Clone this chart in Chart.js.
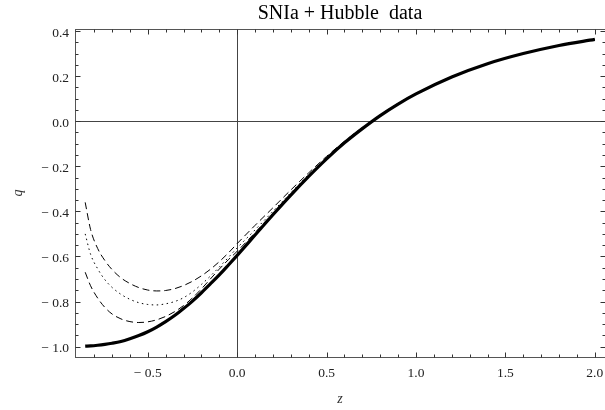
<!DOCTYPE html>
<html><head><meta charset="utf-8">
<script src="https://cdn.jsdelivr.net/npm/chart.js@4/dist/chart.umd.min.js"></script>
<style>html,body{margin:0;padding:0;background:#fff;overflow:hidden}canvas{display:block}</style>
</head><body>
<canvas id="c" width="605" height="410" style="width:605px;height:410px"></canvas>
<script>
const titleText = 'SNIa + Hubble  data';
const zValues = [-0.85,-0.82,-0.78,-0.74,-0.70,-0.65,-0.60,-0.55,-0.50,-0.45,-0.40,-0.35,-0.30,-0.25,-0.20,-0.15,-0.10,-0.05,0,0.1,0.2,0.3,0.4,0.5,0.6,0.7,0.8,0.9,1.0,1.2,1.4,1.6,1.8,2.0];
const qSolid = [-0.998,-0.997,-0.994,-0.990,-0.985,-0.977,-0.965,-0.951,-0.934,-0.913,-0.889,-0.862,-0.831,-0.798,-0.761,-0.722,-0.682,-0.639,-0.595,-0.505,-0.415,-0.328,-0.245,-0.167,-0.096,-0.033,0.025,0.076,0.121,0.196,0.255,0.300,0.336,0.363];
const qUpperDashed = [-0.36,-0.48,-0.565,-0.618,-0.658,-0.695,-0.72,-0.738,-0.749,-0.753,-0.751,-0.743,-0.729,-0.71,-0.686,-0.657,-0.623,-0.585,-0.543,-0.462,-0.384,-0.305,-0.229,-0.156,-0.089,-0.028,0.028,0.079,0.124,0.198,0.256,0.300,0.336,0.364];
const qDotted = [-0.50,-0.59,-0.655,-0.703,-0.737,-0.768,-0.79,-0.805,-0.813,-0.815,-0.810,-0.800,-0.783,-0.757,-0.724,-0.687,-0.647,-0.605,-0.562,-0.482,-0.400,-0.317,-0.237,-0.162,-0.093,-0.031,0.026,0.077,0.122,0.197,0.255,0.300,0.335,0.363];
const qLowerDashed = [-0.67,-0.73,-0.785,-0.826,-0.855,-0.877,-0.889,-0.893,-0.89,-0.881,-0.866,-0.845,-0.818,-0.784,-0.744,-0.70,-0.656,-0.615,-0.577,-0.494,-0.408,-0.322,-0.241,-0.164,-0.094,-0.032,0.026,0.077,0.122,0.196,0.255,0.299,0.335,0.362];
const xTickLabels = [-0.5,0,0.5,1,1.5,2];
const xMinorTicks = [-0.8,-0.7,-0.6,-0.4,-0.3,-0.2,-0.1,0.1,0.2,0.3,0.4,0.6,0.7,0.8,0.9,1.1,1.2,1.3,1.4,1.6,1.7,1.8,1.9];
const yTickLabels = [-1,-0.8,-0.6,-0.4,-0.2,0,0.2,0.4];
const yMinorTicks = [-0.95,-0.9,-0.85,-0.75,-0.7,-0.65,-0.55,-0.5,-0.45,-0.35,-0.3,-0.25,-0.15,-0.1,-0.05,0.05,0.1,0.15,0.25,0.3,0.35];
const xMin = -0.907, xMax = 2.057, yMin = -1.046, yMax = 0.409;

const pts = arr => zValues.map((z,i)=>({x:z,y:arr[i]}));
const fmt = v => { const s = Math.abs(v).toFixed(1); return v < -1e-9 ? '\u2212 ' + s : s; };

const frameTicks = {
  id:'frameTicks',
  beforeDatasetsDraw(chart){
    const {ctx, chartArea:a, scales:{x,y}} = chart;
    ctx.save();
    ctx.lineWidth = 1;
    ctx.strokeStyle = '#444';
    const px0 = Math.round(x.getPixelForValue(0))+0.5;
    const py0 = Math.round(y.getPixelForValue(0))+0.5;
    ctx.beginPath();
    ctx.moveTo(px0,a.top); ctx.lineTo(px0,a.bottom);
    ctx.moveTo(a.left,py0); ctx.lineTo(a.right,py0);
    ctx.stroke();
    ctx.strokeStyle = '#555';
    ctx.strokeRect(a.left+0.5, a.top+0.5, a.right-a.left, a.bottom-a.top);
    ctx.strokeStyle = '#333';
    ctx.beginPath();
    const xt = (v,len)=>{const p=Math.round(x.getPixelForValue(v))+0.5;
      ctx.moveTo(p,a.bottom+0.5); ctx.lineTo(p,a.bottom+0.5-len);
      ctx.moveTo(p,a.top+0.5); ctx.lineTo(p,a.top+0.5+len);};
    const yt = (v,len)=>{const p=Math.round(y.getPixelForValue(v))+0.5;
      ctx.moveTo(a.left+0.5,p); ctx.lineTo(a.left+0.5+len,p);
      ctx.moveTo(a.right+0.5,p); ctx.lineTo(a.right+0.5-len,p);};
    xTickLabels.forEach(v=>xt(v,5)); xMinorTicks.forEach(v=>xt(v,3));
    yTickLabels.forEach(v=>yt(v,5)); yMinorTicks.forEach(v=>yt(v,3));
    ctx.stroke();
    ctx.restore();
  }
};

const tickFont = {family:'Liberation Serif', size:13.5};
new Chart(document.getElementById('c'), {
  type:'line',
  data:{datasets:[
    {data:pts(qUpperDashed), borderColor:'#000', borderWidth:1, borderDash:[7,4], pointRadius:0, cubicInterpolationMode:'monotone', fill:false},
    {data:pts(qDotted), borderColor:'#000', borderWidth:1, borderDash:[1.5,3.5], pointRadius:0, cubicInterpolationMode:'monotone', fill:false},
    {data:pts(qLowerDashed), borderColor:'#000', borderWidth:1, borderDash:[7,4], pointRadius:0, cubicInterpolationMode:'monotone', fill:false},
    {data:pts(qSolid), borderColor:'#000', borderWidth:3.2, pointRadius:0, cubicInterpolationMode:'monotone', fill:false}
  ]},
  options:{
    responsive:false, animation:false, devicePixelRatio:1,
    layout:{padding:0},
    plugins:{
      legend:{display:false}, tooltip:{enabled:false},
      title:{display:true, text:titleText, fullSize:false, color:'#000',
        font:{family:'Liberation Serif', size:20, weight:'normal'}, padding:{top:1.5,bottom:3.5}}
    },
    scales:{
      x:{type:'linear', min:xMin, max:xMax,
        grid:{display:false, drawTicks:false}, border:{display:false},
        ticks:{padding:8, font:tickFont, color:'#222', callback:fmt, maxRotation:0, autoSkip:false},
        afterBuildTicks:s=>{s.ticks = xTickLabels.map(v=>({value:v}));},
        afterFit:s=>{s.height=53; s.paddingLeft=0; s.paddingRight=0;},
        title:{display:true, text:'z', color:'#333', font:{family:'Liberation Serif', size:14, style:'italic'}, padding:{top:0,bottom:2}}
      },
      y:{type:'linear', min:yMin, max:yMax,
        grid:{display:false, drawTicks:false}, border:{display:false},
        ticks:{padding:6, font:tickFont, color:'#222', callback:fmt, labelOffset:2, autoSkip:false},
        afterBuildTicks:s=>{s.ticks = yTickLabels.map(v=>({value:v}));},
        afterFit:s=>{s.width=75; s.paddingTop=0; s.paddingBottom=0;},
        title:{display:true, text:'q', color:'#333', font:{family:'Liberation Serif', size:14, style:'italic'}, padding:{top:10,bottom:0}}
      }
    }
  },
  plugins:[frameTicks]
});
</script>
</body></html>
